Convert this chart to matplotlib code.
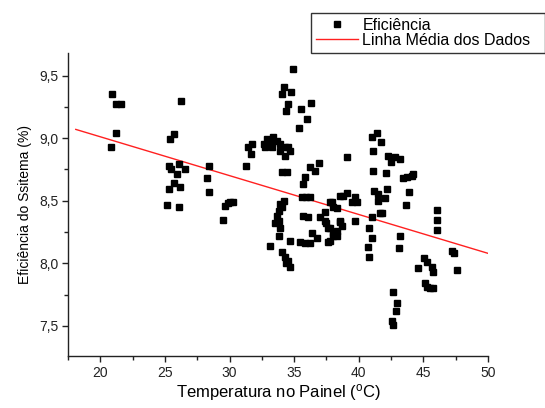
import matplotlib
matplotlib.use("Agg")
import matplotlib.pyplot as plt
from matplotlib.ticker import MultipleLocator

plt.rcParams['font.family'] = ['Liberation Sans', 'DejaVu Sans']

temp = [
    20.9, 21.24, 21.6, 21.24, 20.85,
    26.24, 25.67, 25.41, 25.28, 25.49, 26.06, 25.93, 26.57, 25.67, 26.19, 25.28, 25.16, 26.06,
    28.38, 28.25, 28.38, 29.53, 29.67, 29.85, 30.05, 30.3,
    31.4, 31.7, 31.65, 31.3,
    32.63, 32.89, 33.4, 33.66, 33.92, 34.3, 34.56, 34.7, 34.3, 33.92, 33.27, 32.76, 33.1,
    34.9, 34.18, 34.74, 34.05, 34.49, 34.39, 35.55, 36.3, 35.97, 35.34,
    34.05, 34.43, 36.24, 36.96, 36.6, 35.85, 35.67, 39.07, 35.93, 36.24, 35.6,
    33.92, 34.18, 34.05, 33.79, 33.66, 33.79, 33.53, 33.87, 33.79, 33.15, 34.7, 34.05, 34.3, 34.56, 34.7, 34.4,
    35.72, 36.1, 35.47, 35.85, 36.36, 36.75, 36.24, 37.0, 37.4, 37.4, 37.78, 38.04, 37.65, 37.65, 38.04,
    38.56, 37.5, 37.78, 38.3, 38.56, 38.3, 37.91,
    38.81, 39.07, 39.72, 39.85, 39.46, 38.56, 39.72, 38.69, 38.3, 38.04, 37.78,
    41.39, 41.0, 41.73, 41.13, 42.3, 42.8, 42.5, 41.13, 42.12, 41.2, 42.17, 42.04, 41.52, 41.78, 41.0,
    41.52, 41.65, 40.83, 41.0, 40.75, 40.83,
    43.2, 43.46, 44.1, 43.92, 43.66, 43.2, 43.14, 43.72, 44.23,
    42.68, 42.94, 42.89, 42.6, 42.68,
    46.09, 46.09, 46.09, 47.2, 47.38, 47.64, 45.06, 44.62, 45.26, 45.65, 45.78, 45.14, 45.26, 45.78, 45.5,
]
efic = [
    9.35, 9.27, 9.27, 9.04, 8.93,
    9.30, 9.03, 8.99, 8.78, 8.75, 8.79, 8.71, 8.75, 8.64, 8.61, 8.59, 8.47, 8.45,
    8.78, 8.68, 8.57, 8.35, 8.46, 8.48, 8.49, 8.49,
    8.93, 8.95, 8.87, 8.78,
    8.95, 8.99, 9.01, 8.98, 8.95, 8.93, 8.93, 8.90, 8.86, 8.90, 8.93, 8.93, 8.97,
    9.55, 9.41, 9.37, 9.35, 9.27, 9.22, 9.23, 9.28, 9.15, 9.08,
    8.73, 8.73, 8.77, 8.80, 8.74, 8.69, 8.63, 8.85, 8.53, 8.53, 8.53,
    8.475, 8.50, 8.45, 8.42, 8.38, 8.34, 8.32, 8.28, 8.22, 8.14, 8.18, 8.09, 8.05, 8.02, 7.97, 8.00,
    8.38, 8.37, 8.17, 8.16, 8.24, 8.20, 8.16, 8.37, 8.41, 8.34, 8.49, 8.45, 8.28, 8.17, 8.24,
    8.54, 8.32, 8.28, 8.22, 8.33, 8.44, 8.49,
    8.54, 8.56, 8.53, 8.49, 8.49, 8.34, 8.34, 8.30, 8.26, 8.22, 8.18,
    9.04, 9.01, 8.97, 8.90, 8.86, 8.85, 8.81, 8.74, 8.72, 8.58, 8.59, 8.52, 8.50, 8.40, 8.37,
    8.55, 8.40, 8.28, 8.20, 8.13, 8.05,
    8.83, 8.68, 8.70, 8.57, 8.47, 8.22, 8.12, 8.69, 8.71,
    7.77, 7.68, 7.62, 7.54, 7.51,
    8.43, 8.35, 8.27, 8.10, 8.08, 7.95, 8.04, 7.96, 8.01, 7.97, 7.93, 7.84, 7.81, 7.80, 7.80,
]

line_x = [18.1, 50.0]
line_y = [9.07, 8.08]

fig = plt.figure(figsize=(5.45, 4.08), dpi=100)
ax = fig.add_axes([0.1248, 0.1275, 0.7706, 0.7425])

ax.plot(temp, efic, linestyle='none', marker='s', markersize=4.8,
        color='black', label='Eficiência', zorder=3)
ax.plot(line_x, line_y, color='#ff2020', linewidth=1.0,
        label='Linha Média dos Dados', zorder=2)

ax.set_xlim(17.5, 50)
ax.set_ylim(7.26, 9.68)
ax.xaxis.set_major_locator(MultipleLocator(5))
ax.xaxis.set_minor_locator(MultipleLocator(2.5))
ax.yaxis.set_major_locator(MultipleLocator(0.5))
ax.yaxis.set_minor_locator(MultipleLocator(0.25))
ax.yaxis.set_major_formatter(plt.FuncFormatter(lambda v, p: f"{v:.1f}".replace('.', ',')))

for s in ['top', 'right']:
    ax.spines[s].set_visible(False)
for s in ['left', 'bottom']:
    ax.spines[s].set_linewidth(1.0)
    ax.spines[s].set_color('#222222')

ax.tick_params(which='major', direction='out', length=4.5, width=1.0,
               labelsize=10, colors='#222222', pad=2.5)
ax.tick_params(which='minor', direction='out', length=3, width=1.0, colors='#222222')

ax.set_xlabel('Temperatura no Painel ($\\mathregular{^o}$C)', fontsize=12, labelpad=2)
ax.set_ylabel('Eficiência do Ssitema (%)', fontsize=10, labelpad=5)

leg = fig.legend(loc='upper left', bbox_to_anchor=(0.571, 0.865, 0.429, 0.103),
                 mode='expand', fontsize=11.5, frameon=True, fancybox=False,
                 handlelength=2.6, handletextpad=0.3, borderpad=0.3,
                 labelspacing=0.0, borderaxespad=0.0, numpoints=1)
leg.get_frame().set_edgecolor('black')
leg.get_frame().set_linewidth(1.0)

fig.savefig('out.png', dpi=100)
